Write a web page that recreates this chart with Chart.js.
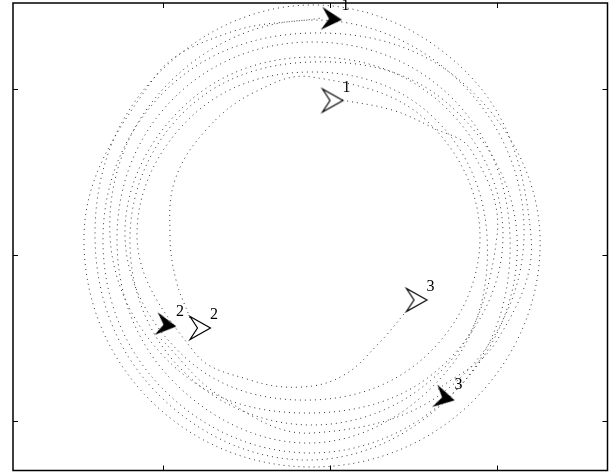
<!DOCTYPE html>
<html>
<head>
<meta charset="utf-8">
<script src="https://cdn.jsdelivr.net/npm/chart.js@4.4.0/dist/chart.umd.min.js"></script>
<style>
  html, body { margin: 0; padding: 0; background: #fff; }
  canvas { display: block; }
</style>
</head>
<body>
<canvas id="chart" width="612" height="472"></canvas>
<script>
// axis limits and tick positions (ticks are drawn without labels)
const xRange = [-317, 277.5];
const yRange = [-215.5, 252];
const xTicks = [-167, 0, 167];
const yTicks = [-166, 0, 166];

// dotted trajectories, one per agent
const path1 = [
  [12,155],[62,145],[101,128],[141,105],[167,19],[114,-113],[-18,-170],[-150,-113],
  [-200,19],[-144,145],[-18,193],[116,153],[187,19],[131,-130],[-18,-198],[-169,-132],
  [-227,19],[-164,165],[-18,222],[134,171],[210,19],[145,-144],[-18,-212],[-181,-144],
  [-246,19],[-176,177],[-102,222],[-9,237]
];
const path2 = [
  [-140,-63],[-154,-25],[-160,19],[-155,75],[-124,125],[-77,162],[-18,178],[97,134],[150,19],
  [99,-98],[-18,-145],[-142,-105],[-205,19],[-147,148],[-18,198],[113,150],[173,19],
  [112,-111],[-18,-158],[-152,-115],[-220,19],[-166,167],[-18,235],[133,170],[194,19],
  [127,-126],[-18,-178],[-110,-141],[-170,-83]
];
const path3 = [
  [74,-59],[50,-87],[14,-120],[-28,-132],[-80,-125],[-135,-98],[-193,19],[-138,139],
  [-18,183],[102,139],[157,19],[117,-116],[-18,-188],[-160,-123],[-213,19],[-156,157],
  [-18,213],[121,158],[180,19],[131,-130],[-18,-205],[-174,-137],[-235,19],[-176,177],
  [-18,250],[141,178],[201,19],[166,-87],[106,-136]
];
const paths = [path1, path2, path3];

// agent markers: hollow = start, filled = end
const agentNames = ["1", "2", "3"];
const startPos = [[2.5,154.5],[-130,-73],[86.5,-45]];
const endPos = [[1.5,236],[-164,-70],[114.5,-143]];
const startTurn = [0, 0, 0];
const endTurn = [4, 8, 13];

function arrowHead(filled) {
  const c = document.createElement("canvas");
  c.width = 26;
  c.height = 28;
  const g = c.getContext("2d");
  g.translate(13, 14);
  g.beginPath();
  g.moveTo(10.5, 0);
  g.lineTo(-10, -11.5);
  g.lineTo(-2.5, 0);
  g.lineTo(-10, 11.5);
  g.closePath();
  if (filled) {
    g.fillStyle = "#000";
    g.fill();
  } else {
    g.fillStyle = "#fff";
    g.fill();
    g.lineWidth = 1.2;
    g.strokeStyle = "#000";
    g.stroke();
  }
  return c;
}
const hollowArrow = arrowHead(false);
const filledArrow = arrowHead(true);

const datasets = [];
agentNames.forEach((name, i) => {
  datasets.push({
    data: [{ x: startPos[i][0], y: startPos[i][1] }],
    pointStyle: hollowArrow, rotation: startTurn[i], pointRadius: 10, order: 0
  });
  datasets.push({
    data: [{ x: endPos[i][0], y: endPos[i][1] }],
    pointStyle: filledArrow, rotation: endTurn[i], pointRadius: 10, order: 0
  });
});
paths.forEach(p => {
  datasets.push({
    data: p.map(([x, y]) => ({ x, y })),
    showLine: true,
    borderColor: "#333",
    borderWidth: 1,
    borderDash: [1, 4],
    pointRadius: 0,
    tension: 0.38,
    order: 1
  });
});

// box, inside ticks on all four sides, agent numbers
const frame = {
  id: "frame",
  afterDraw(chart) {
    const { ctx, chartArea: a, scales: { x, y } } = chart;
    ctx.save();
    ctx.strokeStyle = "#000";
    ctx.lineWidth = 1;
    ctx.beginPath();
    xTicks.forEach(v => {
      const px = Math.round(x.getPixelForValue(v)) + 0.5;
      ctx.moveTo(px, a.bottom); ctx.lineTo(px, a.bottom - 5);
      ctx.moveTo(px, a.top); ctx.lineTo(px, a.top + 5);
    });
    yTicks.forEach(v => {
      const py = Math.round(y.getPixelForValue(v)) + 0.5;
      ctx.moveTo(a.left, py); ctx.lineTo(a.left + 5, py);
      ctx.moveTo(a.right, py); ctx.lineTo(a.right - 5, py);
    });
    ctx.stroke();
    ctx.lineWidth = 1.5;
    ctx.strokeRect(a.left, a.top, a.right - a.left, a.bottom - a.top);

    ctx.fillStyle = "#000";
    ctx.font = "16px 'Liberation Serif', 'DejaVu Serif', serif";
    ctx.textAlign = "center";
    ctx.textBaseline = "middle";
    agentNames.forEach((name, i) => {
      [startPos[i], endPos[i]].forEach(p => {
        const px = x.getPixelForValue(p[0]) + 14;
        const py = y.getPixelForValue(p[1]) - 13;
        ctx.fillText(name, px, py);
      });
    });
    ctx.restore();
  }
};

new Chart(document.getElementById("chart"), {
  type: "scatter",
  data: { datasets },
  options: {
    responsive: false,
    animation: false,
    events: [],
    layout: { autoPadding: false, padding: { left: 13, top: 3, right: 4.5, bottom: 1.5 } },
    scales: {
      x: { display: false, min: xRange[0], max: xRange[1] },
      y: { display: false, min: yRange[0], max: yRange[1] }
    },
    plugins: { legend: { display: false }, tooltip: { enabled: false } }
  },
  plugins: [frame]
});
</script>
</body>
</html>
